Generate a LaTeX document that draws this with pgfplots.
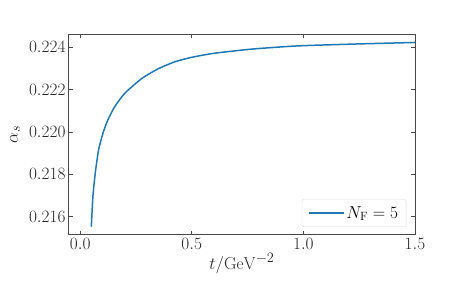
\documentclass[border=0pt]{standalone}
\usepackage{pgfplots}
\pgfplotsset{compat=1.18}
\definecolor{c0}{HTML}{1F77B4}
\definecolor{framegray}{gray}{0.28}
\begin{document}
\begin{tikzpicture}
\path[use as bounding box] (-69pt,-49pt) rectangle (392pt,235pt);
\begin{axis}[
  at={(0,0)}, anchor=south west,
  width=346pt, height=201pt, scale only axis,
  xmin=-0.05, xmax=1.5, ymin=0.21514, ymax=0.22463,
  xtick={0,0.5,1,1.5},
  ytick={0.216,0.218,0.220,0.222,0.224},
  scaled y ticks=false, scaled x ticks=false,
  tick align=inside, major tick length=4pt,
  tick style={color=framegray, line width=0.8pt},
  axis line style={framegray, line width=1pt},
  xticklabel style={/pgf/number format/.cd,fixed,fixed zerofill,precision=1},
  yticklabel style={/pgf/number format/.cd,fixed,fixed zerofill,precision=3},
  tick label style={font=\fontsize{17}{17}\selectfont, text=black!85},
  label style={font=\fontsize{19}{20}\selectfont, text=black!85},
  xlabel={$t/\mathrm{GeV}^{-2}$}, ylabel={$\alpha_s$},
  xlabel style={yshift=3pt},
  ylabel style={yshift=2pt},
  legend style={at={(0.975,0.04)}, anchor=south east, draw=black!15, rounded corners=2pt,
    font=\fontsize{17}{17}\selectfont, inner xsep=6pt, inner ysep=5pt,
    /tikz/every even column/.append style={column sep=6pt}},
  legend cell align=left,
  legend image code/.code={\draw[#1] (0pt,0pt) -- (35pt,0pt);},
]
\addplot[c0, line width=1.5pt, smooth, tension=0.4] table {
t a
0.05 0.21553
0.057 0.21694
0.0675 0.21805
0.0824 0.21915
0.102 0.21994
0.124 0.22057
0.155 0.22120
0.2 0.22183
0.275 0.22252
0.35 0.22299
0.425 0.22332
0.5 0.22353
0.6 0.22372
0.762 0.22391
0.9 0.22402
1.0 0.22408
1.243 0.22416
1.5 0.22423
};
\addlegendentry{$N_{\mathrm{F}}=5$}
\end{axis}
\end{tikzpicture}
\end{document}
